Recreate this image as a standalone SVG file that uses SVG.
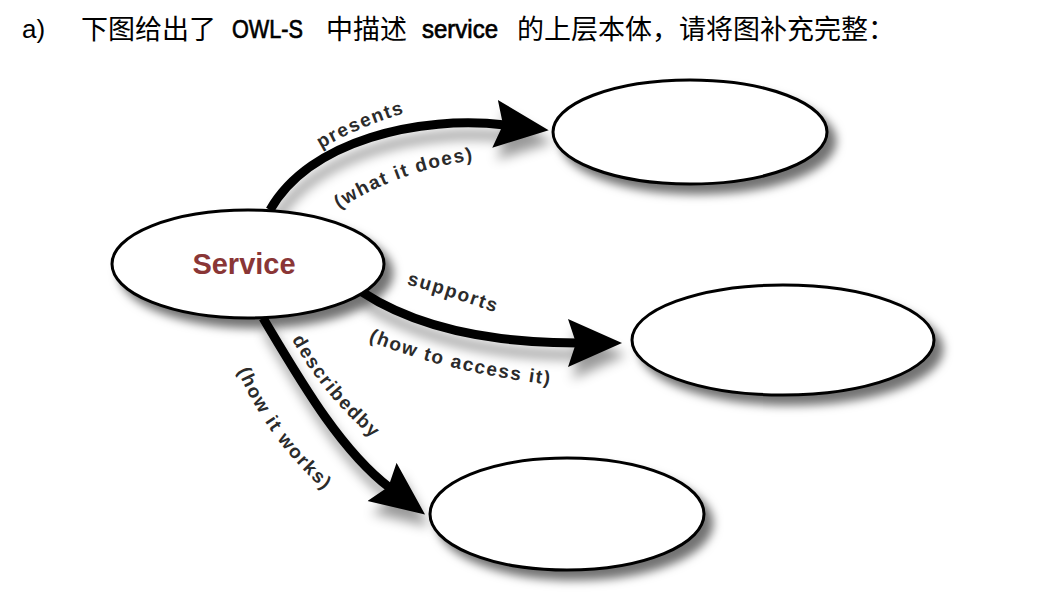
<svg xmlns="http://www.w3.org/2000/svg" xmlns:xlink="http://www.w3.org/1999/xlink" width="1064" height="616" viewBox="0 0 1064 616">
<style>
.node{fill:#fff;stroke:#000;stroke-width:3;filter:url(#shadow)}
.edge{fill:none;stroke:#000;stroke-width:9;marker-end:url(#head)}
.lbl{font-family:"Liberation Sans",Arial,sans-serif;font-weight:bold;font-size:19px;fill:#2b2b2b;letter-spacing:1.6px}
.cjk{font-family:"Noto Sans CJK SC",sans-serif;font-size:27px;fill:#000}
.lat{font-family:"Liberation Sans",Arial,sans-serif;font-size:26px;fill:#000;stroke:#000;stroke-width:0.7px}
</style>
<defs>
<filter id="shadow" x="-20%" y="-20%" width="150%" height="160%">
<feDropShadow dx="8" dy="9" stdDeviation="5" flood-color="#000" flood-opacity="0.55"/>
</filter>
<filter id="eshadow" x="-20%" y="-30%" width="150%" height="170%">
<feDropShadow dx="4" dy="12" stdDeviation="6" flood-color="#000" flood-opacity="0.4"/>
</filter>
<marker id="head" markerUnits="userSpaceOnUse" markerWidth="56" markerHeight="50" refX="10" refY="24" orient="auto">
<path d="M0,0 L54,24 L0,48 L8,24 z" fill="#000"/>
</marker>
<path id="p_presents" d="M300,163 Q350,126 430,106"/>
<path id="p_what" d="M326,218 Q395,168 490,158"/>
<path id="p_supports" d="M398,282 Q450,296 505,316"/>
<path id="p_access" d="M360,337 Q440,372 560,386"/>
<path id="p_described" d="M284,324 Q318,395 387,450"/>
<path id="p_works" d="M234,362 Q265,440 332,497"/>
</defs>
<rect width="1064" height="616" fill="#fff"/>
<g id="title">
<text x="22" y="38" font-family="Liberation Sans, Arial, sans-serif" font-size="26" fill="#000">a)</text>
<text class="cjk" x="81" y="39">下图给出了</text>
<text class="lat" x="232" y="38" textLength="71" lengthAdjust="spacingAndGlyphs">OWL-S</text>
<text class="cjk" x="326" y="39">中描述</text>
<text class="lat" x="422" y="38" textLength="76" lengthAdjust="spacingAndGlyphs">service</text>
<text class="cjk" x="517" y="39">的上层本体，请将图补充完整：</text>
</g>
<g id="connectors" filter="url(#eshadow)">
<path id="e_presents" class="edge" d="M270,210 C310,140 420,115 505,125"/>
<path id="e_supports" class="edge" d="M362,292 C420,330 500,343 578,343"/>
<path id="e_describedby" class="edge" d="M263,318 C300,380 340,450 390,488"/>
</g>
<g id="labels">
<text class="lbl"><textPath xlink:href="#p_presents" startOffset="50%" text-anchor="middle">presents</textPath></text>
<text class="lbl"><textPath xlink:href="#p_what" startOffset="50%" text-anchor="middle">(what it does)</textPath></text>
<text class="lbl"><textPath xlink:href="#p_supports" startOffset="50%" text-anchor="middle">supports</textPath></text>
<text class="lbl"><textPath xlink:href="#p_access" startOffset="50%" text-anchor="middle">(how to access it)</textPath></text>
<text class="lbl"><textPath xlink:href="#p_described" startOffset="50%" text-anchor="middle">describedby</textPath></text>
<text class="lbl"><textPath xlink:href="#p_works" startOffset="50%" text-anchor="middle">(how it works)</textPath></text>
</g>
<g id="service">
<ellipse class="node" cx="248" cy="264" rx="136" ry="54"/>
<text x="244" y="274" text-anchor="middle" font-family="Liberation Sans, Arial, sans-serif" font-weight="bold" font-size="29" fill="#8a3636">Service</text>
</g>
<g id="profile">
<ellipse class="node" cx="690" cy="132" rx="137" ry="52"/>
</g>
<g id="grounding">
<ellipse class="node" cx="783" cy="340" rx="151" ry="55"/>
</g>
<g id="model">
<ellipse class="node" cx="567" cy="514" rx="137" ry="56"/>
</g>
</svg>
